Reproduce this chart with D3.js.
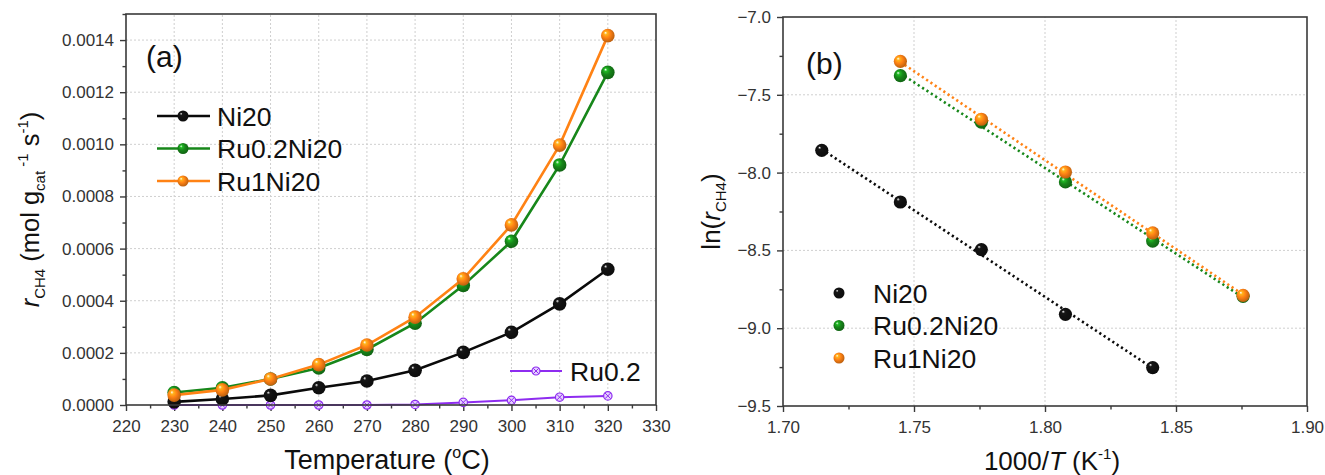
<!DOCTYPE html>
<html>
<head>
<meta charset="utf-8">
<script src="https://cdn.jsdelivr.net/npm/d3@7"></script>
<style>
  html, body { margin: 0; padding: 0; background: #fff; }
  svg { display: block; font-family: "Liberation Sans", Arial, sans-serif; }
</style>
</head>
<body>
<svg id="chart" width="1325" height="475"></svg>
<script>
// ---- Panel (a): CH4 formation rate vs. temperature ----
const temperatures = [230, 240, 250, 260, 270, 280, 290, 300, 310, 320];
const rateNi20      = [0.000012, 0.000023, 0.000037, 0.000066, 0.000092, 0.000133, 0.000202, 0.000279, 0.000388, 0.000521];
const rateRu02Ni20  = [0.000048, 0.000066, 0.000100, 0.000142, 0.000213, 0.000314, 0.000459, 0.000628, 0.000921, 0.001276];
const rateRu1Ni20   = [0.000038, 0.000058, 0.000100, 0.000155, 0.000230, 0.000337, 0.000484, 0.000691, 0.000997, 0.001417];
const rateRu02      = [0.000000, 0.000000, 0.000000, 0.000000, 0.000000, 0.000002, 0.000010, 0.000018, 0.000030, 0.000035];
const tempTicks = [220, 230, 240, 250, 260, 270, 280, 290, 300, 310, 320, 330];
const rateTicks = [0, 0.0002, 0.0004, 0.0006, 0.0008, 0.0010, 0.0012, 0.0014];

// ---- Panel (b): Arrhenius plot ----
const invTNi20   = [1.7148, 1.7448, 1.7757, 1.8078, 1.8411];
const lnRNi20    = [-7.857, -8.189, -8.495, -8.911, -9.253];
const invTRuNi   = [1.7448, 1.7757, 1.8078, 1.8411, 1.8756];
const lnRRu02Ni20 = [-7.377, -7.675, -8.060, -8.440, -8.795];
const lnRRu1Ni20  = [-7.285, -7.657, -7.996, -8.388, -8.789];
const invTTicks = [1.70, 1.75, 1.80, 1.85, 1.90];
const lnRTicks  = [-9.5, -9.0, -8.5, -8.0, -7.5, -7.0];

const COLORS = { black: "#0a0a0a", green: "#17871a", orange: "#ff8214", purple: "#8e2cf0" };
const AXIS = "#3a3a3a";

const svg = d3.select("#chart");
const defs = svg.append("defs");

// Shaded "ball" markers
function ballGradient(id, base) {
  const c = d3.color(base);
  const g = defs.append("radialGradient").attr("id", id)
    .attr("cx", "45%").attr("cy", "45%").attr("r", "60%")
    .attr("fx", "32%").attr("fy", "28%");
  g.append("stop").attr("offset", "0%").attr("stop-color", "#ffffff");
  g.append("stop").attr("offset", "20%").attr("stop-color", c.brighter(0.9).formatHex());
  g.append("stop").attr("offset", "50%").attr("stop-color", base);
  g.append("stop").attr("offset", "100%").attr("stop-color", c.darker(1).formatHex());
}
ballGradient("ball-black", "#111111");
ballGradient("ball-green", COLORS.green);
ballGradient("ball-orange", COLORS.orange);

function drawFrame(g, x, y) {
  const [x0, x1] = x.range(), [y0, y1] = y.range();
  g.append("rect").attr("x", x0).attr("y", y1).attr("width", x1 - x0).attr("height", y0 - y1)
    .attr("fill", "none").attr("stroke", AXIS).attr("stroke-width", 1.6);
}

function drawGrid(g, x, y, xt, yt) {
  const [x0, x1] = x.range(), [y0, y1] = y.range();
  const grid = g.append("g").attr("stroke", "#cfcfcf").attr("stroke-width", 1).attr("stroke-dasharray", "2,2");
  xt.filter(v => Math.abs(x(v) - x0) > 1 && Math.abs(x(v) - x1) > 1).forEach(v =>
    grid.append("line").attr("x1", x(v)).attr("x2", x(v)).attr("y1", y0).attr("y2", y1));
  yt.filter(v => Math.abs(y(v) - y0) > 1 && Math.abs(y(v) - y1) > 1).forEach(v =>
    grid.append("line").attr("x1", x0).attr("x2", x1).attr("y1", y(v)).attr("y2", y(v)));
}

function styleAxis(sel) {
  sel.select(".domain").remove();
  sel.selectAll(".tick line").attr("stroke", AXIS).attr("stroke-width", 1.4);
  sel.selectAll(".tick text").attr("fill", "#333").style("font-size", "17px")
    .style("font-family", "'Liberation Sans', Arial, sans-serif");
}

function drawAxes(g, x, y, xt, yt, xMinor, yMinor, xFmt, yFmt) {
  const [x0] = x.range(), [y0] = y.range();
  g.append("g").attr("transform", `translate(0,${y0})`)
    .call(d3.axisBottom(x).tickValues(xt).tickFormat(xFmt).tickSizeInner(6).tickSizeOuter(0).tickPadding(9))
    .call(styleAxis);
  g.append("g").attr("transform", `translate(0,${y0})`)
    .call(d3.axisBottom(x).tickValues(xMinor).tickFormat("").tickSizeInner(3.5).tickSizeOuter(0))
    .call(styleAxis);
  g.append("g").attr("transform", `translate(${x0},0)`)
    .call(d3.axisLeft(y).tickValues(yt).tickFormat(yFmt).tickSizeInner(6).tickSizeOuter(0).tickPadding(6))
    .call(styleAxis);
  g.append("g").attr("transform", `translate(${x0},0)`)
    .call(d3.axisLeft(y).tickValues(yMinor).tickFormat("").tickSizeInner(3.5).tickSizeOuter(0))
    .call(styleAxis);
}

function midpoints(ticks) {
  const m = [];
  for (let i = 0; i < ticks.length - 1; i++) m.push((ticks[i] + ticks[i + 1]) / 2);
  return m;
}

// ================= Panel (a) =================
const xA = d3.scaleLinear().domain([220, 330]).range([126, 656]);
const yA = d3.scaleLinear().domain([0, 0.0015]).range([405, 14]);
const gA = svg.append("g");

drawGrid(gA, xA, yA, tempTicks, rateTicks);
drawAxes(gA, xA, yA, tempTicks, rateTicks, midpoints(tempTicks),
  midpoints(rateTicks).concat([0.0015]), d3.format("d"), d3.format(".4f"));

const lineA = d3.line().x(d => xA(d[0])).y(d => yA(d[1]));

// Ru0.2 (open crossed circles)
const ru02Pts = d3.zip(temperatures, rateRu02);
gA.append("path").datum(ru02Pts).attr("d", lineA).attr("fill", "none")
  .attr("stroke", COLORS.purple).attr("stroke-width", 2);

function crossedCircle(g, cx, cy, r) {
  g.append("circle").attr("cx", cx).attr("cy", cy).attr("r", r)
    .attr("fill", "#e6d0ff").attr("stroke", COLORS.purple).attr("stroke-width", 1.2);
  const d = r * 0.7;
  g.append("path").attr("d", `M${cx - d},${cy - d}L${cx + d},${cy + d}M${cx - d},${cy + d}L${cx + d},${cy - d}`)
    .attr("stroke", COLORS.purple).attr("stroke-width", 1);
}
ru02Pts.forEach(p => crossedCircle(gA, xA(p[0]), yA(p[1]), 4.2));

const seriesA = [
  { name: "Ni20", values: rateNi20, color: COLORS.black, ball: "ball-black" },
  { name: "Ru0.2Ni20", values: rateRu02Ni20, color: COLORS.green, ball: "ball-green" },
  { name: "Ru1Ni20", values: rateRu1Ni20, color: COLORS.orange, ball: "ball-orange" }
];

seriesA.forEach(s => {
  const pts = d3.zip(temperatures, s.values);
  gA.append("path").datum(pts).attr("d", lineA).attr("fill", "none")
    .attr("stroke", s.color).attr("stroke-width", 2.6);
  gA.selectAll(null).data(pts).enter().append("circle")
    .attr("cx", d => xA(d[0])).attr("cy", d => yA(d[1])).attr("r", 6.8)
    .attr("fill", `url(#${s.ball})`);
});

drawFrame(gA, xA, yA);

// Legend (a)
const legA = gA.append("g");
seriesA.forEach((s, i) => {
  const cy = 116 + i * 32.5;
  legA.append("line").attr("x1", 157).attr("x2", 210).attr("y1", cy).attr("y2", cy)
    .attr("stroke", s.color).attr("stroke-width", 2.6);
  legA.append("circle").attr("cx", 183).attr("cy", cy).attr("r", 5.5).attr("fill", `url(#${s.ball})`);
  legA.append("text").attr("x", 217).attr("y", cy + 9.5).style("font-size", "26.5px").attr("fill", "#111").text(s.name);
});
legA.append("line").attr("x1", 510).attr("x2", 562).attr("y1", 371).attr("y2", 371)
  .attr("stroke", COLORS.purple).attr("stroke-width", 2);
crossedCircle(legA, 536, 371, 4);
legA.append("text").attr("x", 570).attr("y", 380.5).style("font-size", "26.5px").attr("fill", "#111").text("Ru0.2");

gA.append("text").attr("x", 146).attr("y", 67).style("font-size", "30px").attr("fill", "#111").text("(a)");

// Axis titles (a)
const xTitleA = gA.append("text").attr("x", 387).attr("y", 469)
  .attr("text-anchor", "middle").style("font-size", "27px").attr("fill", "#111");
xTitleA.append("tspan").text("Temperature (");
xTitleA.append("tspan").attr("dy", -11).style("font-size", "16px").text("o");
xTitleA.append("tspan").attr("dy", 11).text("C)");

const yTitleA = gA.append("text").attr("transform", `translate(39,${(yA.range()[0] + yA.range()[1]) / 2}) rotate(-90)`)
  .attr("text-anchor", "middle").style("font-size", "25.5px").attr("fill", "#111");
yTitleA.append("tspan").style("font-style", "italic").text("r");
yTitleA.append("tspan").attr("dy", 6).style("font-size", "15px").text("CH4");
yTitleA.append("tspan").attr("dy", -6).text(" (mol g");
yTitleA.append("tspan").attr("dy", 6).style("font-size", "15px").text("cat");
yTitleA.append("tspan").attr("dy", -17).style("font-size", "15px").text(" -1");
yTitleA.append("tspan").attr("dy", 11).text(" s");
yTitleA.append("tspan").attr("dy", -11).style("font-size", "15px").text("-1");
yTitleA.append("tspan").attr("dy", 11).text(")");

// ================= Panel (b) =================
const xB = d3.scaleLinear().domain([1.70, 1.90]).range([783, 1307]);
const yB = d3.scaleLinear().domain([-9.5, -7.0]).range([406, 17]);
const gB = svg.append("g");

drawGrid(gB, xB, yB, invTTicks, lnRTicks);
drawAxes(gB, xB, yB, invTTicks, lnRTicks, midpoints(invTTicks), midpoints(lnRTicks),
  d3.format(".2f"), d3.format(".1f"));

const seriesB = [
  { name: "Ni20", x: invTNi20, y: lnRNi20, color: COLORS.black, ball: "ball-black" },
  { name: "Ru0.2Ni20", x: invTRuNi, y: lnRRu02Ni20, color: COLORS.green, ball: "ball-green" },
  { name: "Ru1Ni20", x: invTRuNi, y: lnRRu1Ni20, color: COLORS.orange, ball: "ball-orange" }
];

// Least-squares Arrhenius fit, drawn dotted across each series' range
function linearFit(xs, ys) {
  const mx = d3.mean(xs), my = d3.mean(ys);
  const slope = d3.sum(xs.map((v, i) => (v - mx) * (ys[i] - my))) / d3.sum(xs.map(v => (v - mx) ** 2));
  return v => my + slope * (v - mx);
}

seriesB.forEach(s => {
  const f = linearFit(s.x, s.y);
  const xe = d3.extent(s.x);
  gB.append("line").attr("x1", xB(xe[0])).attr("x2", xB(xe[1]))
    .attr("y1", yB(f(xe[0]))).attr("y2", yB(f(xe[1])))
    .attr("stroke", s.color).attr("stroke-width", 2.6).attr("stroke-dasharray", "2.2,3")
    .attr("stroke-linecap", "butt");
});
seriesB.forEach(s => {
  gB.selectAll(null).data(d3.zip(s.x, s.y)).enter().append("circle")
    .attr("cx", d => xB(d[0])).attr("cy", d => yB(d[1])).attr("r", 6.6)
    .attr("fill", `url(#${s.ball})`);
});

drawFrame(gB, xB, yB);

// Legend (b)
seriesB.forEach((s, i) => {
  const cy = 293 + i * 32.5;
  gB.append("circle").attr("cx", 839).attr("cy", cy).attr("r", 5.5).attr("fill", `url(#${s.ball})`);
  gB.append("text").attr("x", 873).attr("y", cy + 9.5).style("font-size", "26.5px").attr("fill", "#111").text(s.name);
});

gB.append("text").attr("x", 806).attr("y", 74).style("font-size", "30px").attr("fill", "#111").text("(b)");

const xTitleB = gB.append("text").attr("x", 1052).attr("y", 470)
  .attr("text-anchor", "middle").style("font-size", "26px").attr("fill", "#111");
xTitleB.append("tspan").text("1000/");
xTitleB.append("tspan").style("font-style", "italic").text("T");
xTitleB.append("tspan").text(" (K");
xTitleB.append("tspan").attr("dy", -11).style("font-size", "15px").text("-1");
xTitleB.append("tspan").attr("dy", 11).text(")");

const yTitleB = gB.append("text").attr("transform", `translate(720,${(yB.range()[0] + yB.range()[1]) / 2}) rotate(-90)`)
  .attr("text-anchor", "middle").style("font-size", "26px").attr("fill", "#111");
yTitleB.append("tspan").text("ln(");
yTitleB.append("tspan").style("font-style", "italic").text("r");
yTitleB.append("tspan").attr("dy", 6).style("font-size", "15px").text("CH4");
yTitleB.append("tspan").attr("dy", -6).text(")");
</script>
</body>
</html>
